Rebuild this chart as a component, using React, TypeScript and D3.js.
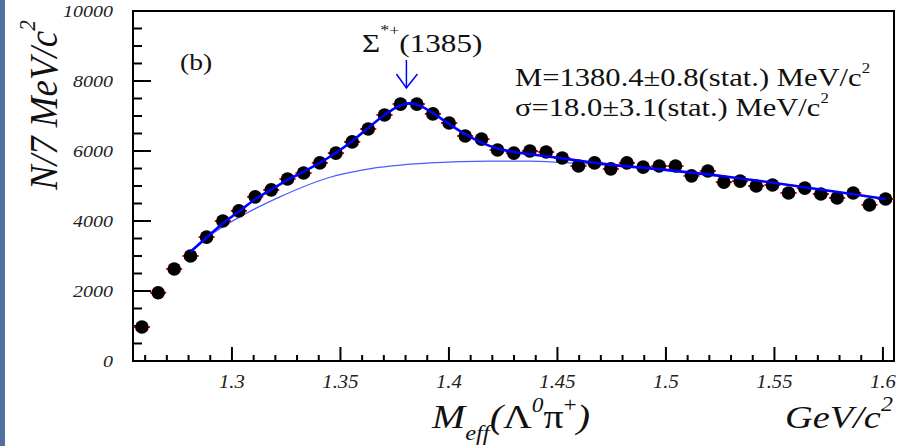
import React from "react";
import * as d3 from "d3";

// ---- data ----
const binCenters = [
  1.2585, 1.266, 1.2734, 1.2809, 1.2883, 1.2958, 1.3032, 1.3107, 1.3181, 1.3256,
  1.333, 1.3405, 1.3479, 1.3554, 1.3628, 1.3703, 1.3777, 1.3852, 1.3926, 1.4001,
  1.4075, 1.415, 1.4224, 1.4299, 1.4373, 1.4448, 1.4522, 1.4597, 1.4671, 1.4746,
  1.482, 1.4895, 1.4969, 1.5044, 1.5118, 1.5193, 1.5267, 1.5342, 1.5416, 1.5491,
  1.5565, 1.564, 1.5714, 1.5789, 1.5863, 1.5938, 1.6012,
];
const counts = [
  970, 1950, 2630, 3000, 3540, 4000, 4290, 4690, 4890, 5200,
  5370, 5660, 5940, 6260, 6630, 7030, 7340, 7340, 7060, 6800,
  6430, 6340, 6030, 5940, 6000, 5970, 5800, 5570, 5660, 5490,
  5660, 5540, 5570, 5570, 5290, 5430, 5110, 5140, 5000, 5030,
  4800, 4940, 4770, 4660, 4800, 4460, 4630,
];
const binHalfWidth = 0.003725;

const totalFitX = [
  1.2809, 1.2883, 1.2958, 1.3032, 1.3107, 1.3181, 1.3256, 1.333, 1.3405, 1.3479,
  1.3554, 1.3628, 1.3703, 1.3777, 1.3815, 1.3852, 1.3926, 1.4001, 1.4075, 1.415,
  1.4224, 1.4299, 1.4373, 1.4448, 1.4522, 1.47, 1.5, 1.53, 1.56, 1.58, 1.6012,
];
const totalFitY = [
  3120, 3530, 3930, 4270, 4620, 4900, 5170, 5410, 5660, 5950,
  6280, 6660, 7030, 7300, 7360, 7330, 7080, 6770, 6480, 6240,
  6070, 5970, 5910, 5850, 5790, 5640, 5460, 5250, 5000, 4820, 4630,
];
const bkgFitX = [1.2809, 1.2913, 1.3069, 1.3221, 1.3452, 1.3604, 1.3913, 1.4189, 1.4373, 1.4526, 1.47, 1.5, 1.53, 1.56, 1.58, 1.6012];
const bkgFitY = [3120, 3650, 4230, 4690, 5250, 5460, 5660, 5710, 5710, 5670, 5610, 5450, 5245, 5000, 4820, 4630];

const yMajorTicks = [0, 2000, 4000, 6000, 8000, 10000];
const yTickLabels = ["0", "2000", "4000", "6000", "8000", "10000"];
const xMajorTicks = [1.3, 1.35, 1.4, 1.45, 1.5, 1.55, 1.6];
const xTickLabels = ["1.3", "1.35", "1.4", "1.45", "1.5", "1.55", "1.6"];
const peakMass = 1.3804;

// ---- layout ----
const W = 904;
const H = 446;
const L = 133, R = 894, T = 11, B = 361;
const serif = "'Liberation Serif', 'Times New Roman', serif";

export default function App() {
  const x = d3.scaleLinear().domain([1.2544, 1.6051]).range([L, R]);
  const y = d3.scaleLinear().domain([0, 10000]).range([B, T]);

  const yMinor = d3.range(0, 10001, 500).filter((v) => v % 2000 !== 0);
  const xMinor = d3.range(126, 161, 1).map((v) => v / 100).filter((v) => Math.round(v * 100) % 5 !== 0);

  const line = d3
    .line<[number, number]>()
    .x((d) => x(d[0]))
    .y((d) => y(d[1]))
    .curve(d3.curveMonotoneX);
  const totalPath = line(totalFitX.map((v, i) => [v, totalFitY[i]]) as [number, number][]) || "";
  const bkgPath = line(bkgFitX.map((v, i) => [v, bkgFitY[i]]) as [number, number][]) || "";

  const ax = x(peakMass);

  return (
    <svg
      width={W}
      height={H}
      style={{ position: "absolute", left: 0, top: 0, background: "#fff" }}
      fontFamily={serif}
    >
      <rect x={0} y={0} width={W} height={H} fill="#fff" />
      <rect x={0} y={0} width={5} height={H} fill="#4f6f9d" />

      {/* frame */}
      <rect x={L} y={T} width={R - L} height={B - T} fill="none" stroke="#000" strokeWidth={2} />

      {/* y ticks */}
      {yMajorTicks.map((v) => (
        <line key={"ym" + v} x1={L} x2={L + 18} y1={y(v)} y2={y(v)} stroke="#000" strokeWidth={2} />
      ))}
      {yMinor.map((v) => (
        <line key={"yn" + v} x1={L} x2={L + 9} y1={y(v)} y2={y(v)} stroke="#000" strokeWidth={2} />
      ))}
      {/* x ticks */}
      {xMajorTicks.map((v) => (
        <line key={"xm" + v} x1={x(v)} x2={x(v)} y1={B} y2={B - 14} stroke="#000" strokeWidth={2} />
      ))}
      {xMinor.map((v) => (
        <line key={"xn" + v} x1={x(v)} x2={x(v)} y1={B} y2={B - 6} stroke="#000" strokeWidth={2} />
      ))}

      {/* y tick labels */}
      {yMajorTicks.map((v, i) => (
        <g key={"yl" + v} transform={`translate(113,${y(v) + 6}) scale(1.25,1)`}>
          <text textAnchor="end" fontSize={16} fontStyle="italic" fill="#222">
            {yTickLabels[i]}
          </text>
        </g>
      ))}
      {/* x tick labels */}
      {xMajorTicks.map((v, i) => (
        <g key={"xl" + v} transform={`translate(${x(v)},388) scale(1.15,1)`}>
          <text textAnchor="middle" fontSize={18} fontStyle="italic" fill="#222">
            {xTickLabels[i]}
          </text>
        </g>
      ))}

      {/* background fit */}
      <path d={bkgPath} fill="none" stroke="#4a5cff" strokeWidth={1.3} />

      {/* horizontal bin error bars */}
      {binCenters.map((v, i) => (
        <line
          key={"eb" + i}
          x1={Math.max(L, x(v - binHalfWidth))}
          x2={x(v + binHalfWidth)}
          y1={y(counts[i])}
          y2={y(counts[i])}
          stroke="#ff0000"
          strokeWidth={2}
        />
      ))}
      {/* data points */}
      {binCenters.map((v, i) => (
        <circle key={"pt" + i} cx={x(v)} cy={y(counts[i])} r={6.8} fill="#000" />
      ))}

      {/* total fit */}
      <path d={totalPath} fill="none" stroke="#0000ff" strokeWidth={2.6} />

      {/* arrow */}
      <line x1={ax} x2={ax} y1={60} y2={88} stroke="#0000ff" strokeWidth={1.5} />
      <polyline points={`${ax - 10},74 ${ax},88 ${ax + 11},74`} fill="none" stroke="#0000ff" strokeWidth={1.5} />

      {/* Sigma label */}
      <g transform="translate(362,52) scale(1.2,1)">
        <text fontSize={26} fill="#111">
          Σ
          <tspan fontSize={15} dy={-17}>*+</tspan>
          <tspan fontSize={26} dy={17}>(1385)</tspan>
        </text>
      </g>

      {/* (b) */}
      <g transform="translate(180,70) scale(1.2,1)">
        <text fontSize={23} fill="#111">(b)</text>
      </g>

      {/* fit results */}
      <g transform="translate(515,86) scale(1.2,1)">
        <text fontSize={25.5} fill="#111">
          M=1380.4±0.8(stat.) MeV/c
          <tspan fontSize={14} dy={-13}>2</tspan>
        </text>
      </g>
      <g transform="translate(515,116) scale(1.2,1)">
        <text fontSize={25.5} fill="#111">
          σ=18.0±3.1(stat.) MeV/c
          <tspan fontSize={14} dy={-13}>2</tspan>
        </text>
      </g>

      {/* y axis title */}
      <g transform="translate(57,190) scale(1.1,1) rotate(-90)">
        <text fontSize={37} fontStyle="italic" fill="#111">
          N/7 MeV/c
          <tspan fontSize={21} dy={-20}>2</tspan>
        </text>
      </g>

      {/* x axis title */}
      <g transform="translate(432,428) scale(1.17,1)">
        <text fontSize={34} fill="#111">
          <tspan fontStyle="italic">M</tspan>
          <tspan fontStyle="italic" fontSize={21} dy={12}>eff</tspan>
          <tspan fontStyle="italic" dy={-12}>(</tspan>
          <tspan>Λ</tspan>
          <tspan fontStyle="italic" fontSize={20} dy={-16}>0</tspan>
          <tspan dy={16}>π</tspan>
          <tspan fontSize={20} dy={-16}>+</tspan>
          <tspan fontStyle="italic" dy={16}>)</tspan>
        </text>
      </g>

      <g transform="translate(785,428) scale(1.2,1)">
        <text fontSize={32} fontStyle="italic" fill="#111">
          GeV/c
          <tspan fontSize={20} dy={-17}>2</tspan>
        </text>
      </g>
    </svg>
  );
}
